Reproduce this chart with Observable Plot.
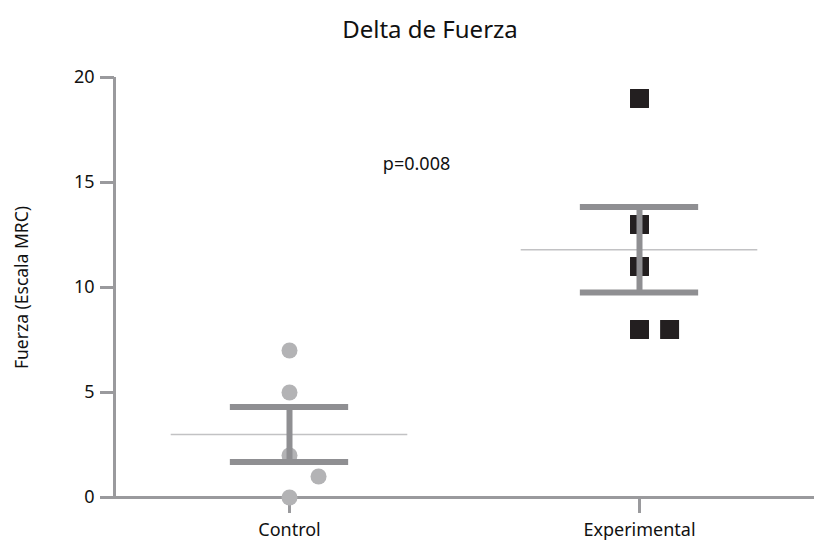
<!DOCTYPE html>
<html>
<head>
<meta charset="utf-8">
<script src="https://cdn.jsdelivr.net/npm/d3@7"></script>
<script src="https://cdn.jsdelivr.net/npm/@observablehq/plot@0.6"></script>
<style>
  body { margin: 0; background: #fff; font-family: "Noto Sans", sans-serif; }
  #title { height: 60px; box-sizing: border-box; padding-top: 12px; padding-left: 46px; text-align: center; font-size: 24px; line-height: 33px; color: #111; }
</style>
</head>
<body>
<div id="title">Delta de Fuerza</div>
<div id="chart"></div>
<script>
const categories = ["Control", "Experimental"];
const controlValues = [7, 5, 2, 1, 0];
const controlJitter = [0, 0, 0, 0.083, 0];
const experimentalValues = [19, 13, 11, 8, 8];
const experimentalJitter = [0, 0, 0, 0, 0.086];
const yTicks = [0, 5, 10, 15, 20];
const annotationText = ["p=0.008"];
const annotationX = [0.363];
const annotationY = [15.85];
const yLabel = "Fuerza (Escala MRC)";

const points = [
  ...controlValues.map((v, i) => ({group: categories[0], x: 0 + controlJitter[i], y: v})),
  ...experimentalValues.map((v, i) => ({group: categories[1], x: 1 + experimentalJitter[i], y: v}))
];
const stats = [controlValues, experimentalValues].map((vals, i) => {
  const m = d3.mean(vals);
  const se = d3.deviation(vals) / Math.sqrt(vals.length);
  return {x: i, mean: m, lo: m - se, hi: m + se};
});

const axisGray = "#9a9a9d";
const barGray = "#8f8f92";
const capHalf = 0.169;
const meanHalf = 0.338;

const plot = Plot.plot({
  width: 814,
  height: 492,
  marginLeft: 114,
  marginRight: 0,
  marginTop: 17,
  marginBottom: 55,
  style: {fontFamily: "Noto Sans, sans-serif", fontSize: "18px", color: "#111", background: "#fff", overflow: "visible"},
  x: {domain: [-0.5, 1.5], ticks: [0, 1], tickFormat: i => categories[i]},
  y: {domain: [0, 20], ticks: yTicks},
  marks: [
    Plot.axisY({ticks: yTicks, tickSize: 14, tickPadding: 6, stroke: axisGray, strokeWidth: 3, label: null, fill: "#111", fontSize: 18}),
    Plot.axisX({ticks: [0, 1], tickSize: 16, tickPadding: 10, tickFormat: i => categories[i], stroke: axisGray, strokeWidth: 3, label: null, fill: "#111", fontSize: 18}),
    Plot.ruleX([-0.5], {y1: 0, y2: 20, stroke: axisGray, strokeWidth: 3}),
    Plot.ruleY([0], {stroke: axisGray, strokeWidth: 3}),
    Plot.ruleY(stats, {y: "mean", x1: d => d.x - meanHalf, x2: d => d.x + meanHalf, stroke: "#c2c2c4", strokeWidth: 1.5}),
    Plot.dot(points.filter(d => d.group === categories[0]), {x: "x", y: "y", r: 8, fill: "#b3b3b5", symbol: "circle"}),
    Plot.dot(points.filter(d => d.group === categories[1]), {x: "x", y: "y", r: 10.7, fill: "#231f20", symbol: "square"}),
    Plot.ruleX(stats, {x: "x", y1: "lo", y2: "hi", stroke: barGray, strokeWidth: 6}),
    Plot.ruleY(stats, {y: "hi", x1: d => d.x - capHalf, x2: d => d.x + capHalf, stroke: barGray, strokeWidth: 6}),
    Plot.ruleY(stats, {y: "lo", x1: d => d.x - capHalf, x2: d => d.x + capHalf, stroke: barGray, strokeWidth: 6}),
    Plot.text(annotationText, {x: (d, i) => annotationX[i], y: (d, i) => annotationY[i], text: d => d, fontSize: 18, fill: "#111"}),
    Plot.text([yLabel], {frameAnchor: "left", textAnchor: "middle", rotate: -90, dx: -92, text: d => d, fontSize: 17.5, fill: "#111"})
  ]
});
document.getElementById("chart").appendChild(plot);
</script>
</body>
</html>
